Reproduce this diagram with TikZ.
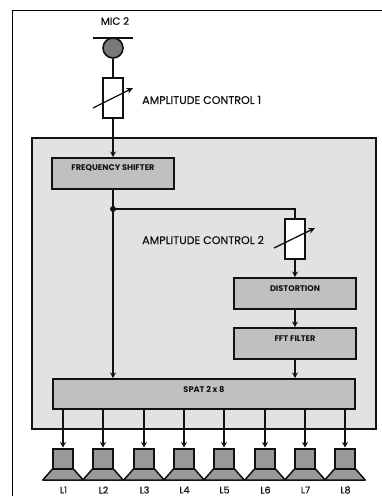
\documentclass[tikz,border=0pt]{standalone}
\usepackage{fontspec}
\setmainfont{Poppins}
\newfontfamily\lblfont[FakeBold=0.5]{Poppins}
\usetikzlibrary{arrows.meta}
\definecolor{panel}{HTML}{E2E2E2}
\definecolor{boxgray}{HTML}{C0C0C0}
\definecolor{spk}{HTML}{999999}
\definecolor{ink}{HTML}{111111}
\tikzset{
  x=1pt,y=-1pt,
  box/.style={draw=ink,line width=2pt,fill=boxgray,inner sep=0pt},
  boxtxt/.style={text=ink,inner sep=0pt,font=\fontsize{8.2}{9}\selectfont\bfseries},
  res/.style={draw=ink,line width=1.5pt,fill=white,minimum width=20pt,minimum height=40pt,inner sep=0pt},
  wire/.style={draw=ink,line width=2pt},
  arr/.style={wire,-{Stealth[length=5.5pt,width=6pt]}},
  tune/.style={draw=ink,line width=1.3pt,-{Stealth[length=6.5pt,width=6pt]}},
  lbl/.style={text=ink,inner sep=0pt,font=\lblfont\fontsize{11.1}{13}\selectfont},
  spk lbl/.style={text=ink,inner sep=0pt,font=\lblfont\fontsize{9.5}{11}\selectfont},
  cone/.style={draw=ink,line width=1.5pt,fill=spk,line join=round},
  mag/.style={draw=ink,line width=2pt,fill=spk,minimum width=20pt,minimum height=20pt,inner sep=0pt}
}
\begin{document}
\begin{tikzpicture}
\useasboundingbox (0,0) rectangle (382,497);
\fill[white] (0,0) rectangle (382,497);
\coordinate (ftl) at (12.5,496);
\coordinate (fc) at (12.5,10.5);
\coordinate (ftr) at (382,10.5);
\draw[black,line width=1.2pt] (ftl) -- (fc) -- (ftr);
\node[draw=ink,line width=2pt,fill=panel,minimum width=344pt,minimum height=291pt,inner sep=0pt] (panel) at (204,283.5) {};
% mic
\coordinate (barl) at (93,38);
\coordinate (barr) at (133,38);
\draw[ink,line width=2pt] (barl) -- (barr);
\node[circle,draw=ink,line width=1.6pt,fill=gray!95!black,minimum size=20pt,inner sep=0pt] (mic) at (113,48) {};
\node[lbl,font=\lblfont\fontsize{10.4}{12}\selectfont] (miclbl) at (115,21) {MIC 2};
% boxes
\node[res] (r1) at (113,98) {};
\node[box,minimum width=122pt,minimum height=31pt] (fs) at (113,173.5) {};
\node[boxtxt] (fst) at (113,168) {FREQUENCY SHIFTER};
\node[res] (r2) at (295,239) {};
\node[box,minimum width=122pt,minimum height=31pt] (dist) at (295,293.5) {};
\node[boxtxt] (distt) at (295,289) {DISTORTION};
\node[box,minimum width=122pt,minimum height=31pt] (fft) at (295,343.5) {};
\node[boxtxt] (fftt) at (295,339) {FFT FILTER};
\node[box,minimum width=302pt,minimum height=30pt] (spat) at (204,394) {};
\node[boxtxt] (spatt) at (204,389) {SPAT 2 x 8};
% wires
\draw[wire] (mic.south) -- (r1.north);
\draw[arr] (r1.south) -- (fs.north);
\coordinate (junc) at (113,209);
\coordinate (bend) at (295,209);
\draw[wire] (fs.south) -- (junc);
\draw[arr] (junc) -- (junc |- spat.north);
\draw[wire,line join=miter] (junc) -- (bend) -- (r2.north);
\fill[ink] (junc) circle (3pt);
\draw[arr] (r2.south) -- (dist.north);
\draw[arr] (dist.south) -- (fft.north);
\draw[arr] (fft.south) -- (spat.north -| fft.south);
% variable resistor arrows
\coordinate (t1a) at (93,108); \coordinate (t1b) at (133,88);
\coordinate (t2a) at (274,248); \coordinate (t2b) at (315,228);
\draw[tune] (t1a) -- (t1b);
\draw[tune] (t2a) -- (t2b);
\node[lbl,anchor=west] (ac1) at (142,100) {AMPLITUDE CONTROL 1};
\node[lbl,anchor=west] (ac2) at (142,240) {AMPLITUDE CONTROL 2};
% speakers
\foreach \i/\x in {1/63,2/103,3/144,4/184,5/224,6/265,7/305,8/345}{
  \draw[cone] (\x-10.5,469) -- (\x+10.5,469) -- (\x+20.2,480) -- (\x-20.2,480) -- cycle;
  \node[mag] (sp\i) at (\x,458.5) {};
  \node[spk lbl] (l\i) at (\x+.5,490) {L\i};
  \draw[arr] (spat.south -| sp\i) -- (sp\i.north);
}
\end{tikzpicture}
\end{document}
